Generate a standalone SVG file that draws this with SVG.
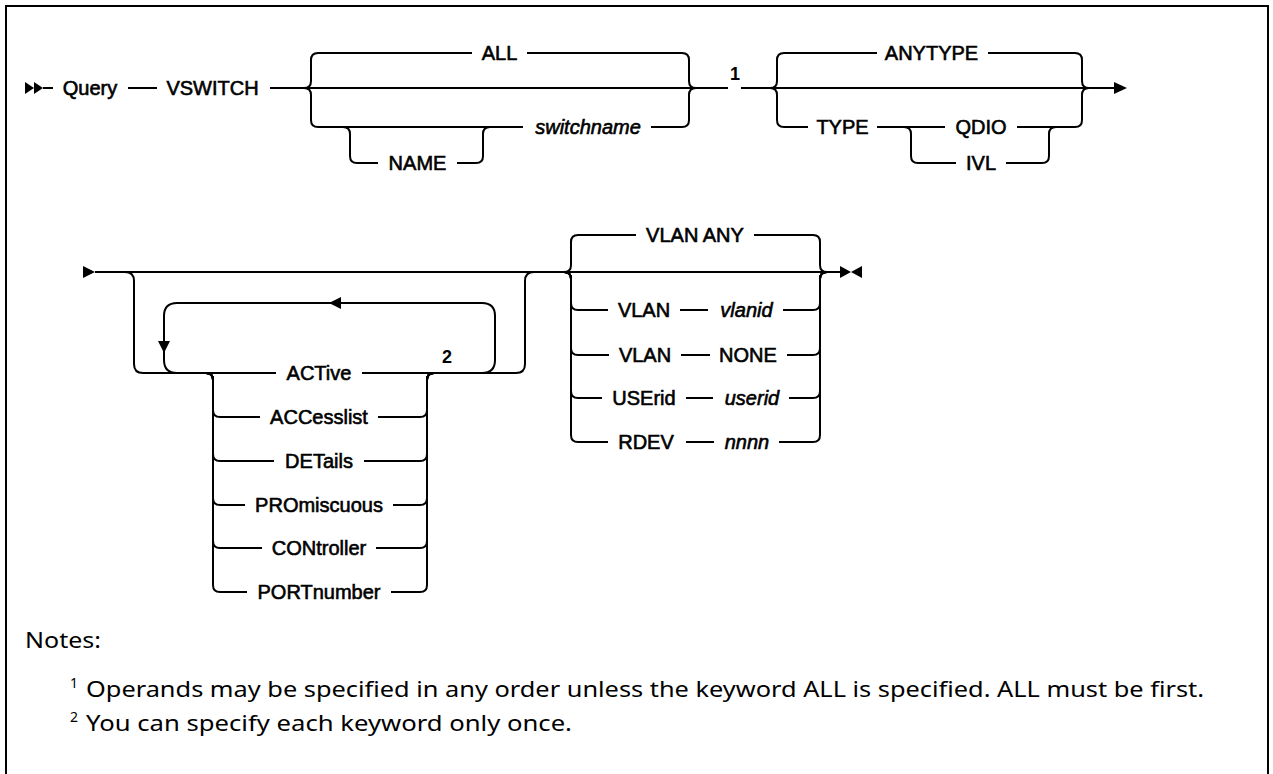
<svg xmlns="http://www.w3.org/2000/svg" width="1273" height="774" viewBox="0 0 1273 774">
<style>
.ln{fill:none;stroke:#000;stroke-width:2}
.ah{fill:#000;stroke:none}
.kw{font-family:"Liberation Sans",Arial,sans-serif;font-size:20px;fill:#000;stroke:#000;stroke-width:0.6;text-anchor:middle}
.var{font-style:italic}
.fn{font-family:"Liberation Sans",Arial,sans-serif;font-size:18px;font-weight:bold;fill:#000;text-anchor:middle}
.note{font-family:"Noto Sans","Liberation Sans",sans-serif;font-size:21px;fill:#000}
.sup{font-family:"Noto Sans","Liberation Sans",sans-serif;font-size:14px;fill:#000}
</style>
<rect x="0" y="0" width="1273" height="774" fill="#fff"/>
<rect x="6" y="6" width="1262" height="800" fill="none" stroke="#000" stroke-width="2"/>

<g id="connectors">
  <!-- row 1 main line -->
  <path class="ln" d="M43,88 H53 M128,88 H157 M270,88 H728 M741,88 H1114"/>
  <!-- group 1 -->
  <path class="ln" d="M304,88 q7,0 7,-7 V60 q0,-7 7,-7 H472 M527,53 H682 q7,0 7,7 V81 q0,7 7,7"/>
  <path class="ln" d="M304,88 q7,0 7,7 V120 q0,7 7,7 H523 M651,127 H682 q7,0 7,-7 V95 q0,-7 7,-7"/>
  <path class="ln" d="M343,127 q7,0 7,7 V156 q0,7 7,7 H378 M457,163 H476 q7,0 7,-7 V134 q0,-7 7,-7"/>
  <!-- group 2 -->
  <path class="ln" d="M770,88 q7,0 7,-7 V60 q0,-7 7,-7 H877 M988,53 H1075 q7,0 7,7 V81 q0,7 7,7"/>
  <path class="ln" d="M770,88 q7,0 7,7 V120 q0,7 7,7 H808 M877,127 H945 M1017,127 H1075 q7,0 7,-7 V95 q0,-7 7,-7"/>
  <path class="ln" d="M904,127 q7,0 7,7 V156 q0,7 7,7 H956 M1006,163 H1042 q7,0 7,-7 V134 q0,-7 7,-7"/>
  <!-- row 1 arrows -->
  <polygon class="ah" points="25,82 34,88 25,94"/>
  <polygon class="ah" points="34,82 43,88 34,94"/>
  <polygon class="ah" points="1114,82 1127,88 1114,94"/>

  <!-- row 2 main line -->
  <path class="ln" d="M95,272 H840"/>
  <!-- optional group -->
  <path class="ln" d="M125,272 q9,0 9,9 V364 q0,9 9,9 H276 M362,373 H516 q9,0 9,-9 V281 q0,-9 9,-9"/>
  <!-- repeat loop -->
  <path class="ln" d="M482,373 q13,0 13,-13 V316 q0,-13 -13,-13 H177 q-13,0 -13,13 V360 q0,13 13,13"/>
  <polygon class="ah" points="341,297 329,303 341,309"/>
  <polygon class="ah" points="158,341 170,341 164,353"/>
  <!-- list -->
  <path class="ln" d="M206,373 q7,0 7,7 V410 q0,7 7,7 H260 M378,417 H420 q7,0 7,-7 V380 q0,-7 7,-7"/>
  <path class="ln" d="M206,373 q7,0 7,7 V454 q0,7 7,7 H274 M364,461 H420 q7,0 7,-7 V380 q0,-7 7,-7"/>
  <path class="ln" d="M206,373 q7,0 7,7 V498 q0,7 7,7 H245 M393,505 H420 q7,0 7,-7 V380 q0,-7 7,-7"/>
  <path class="ln" d="M206,373 q7,0 7,7 V541 q0,7 7,7 H262 M376,548 H420 q7,0 7,-7 V380 q0,-7 7,-7"/>
  <path class="ln" d="M206,373 q7,0 7,7 V585 q0,7 7,7 H247 M391,592 H420 q7,0 7,-7 V380 q0,-7 7,-7"/>
  <!-- VLAN group -->
  <path class="ln" d="M564,272 q7,0 7,-7 V242 q0,-7 7,-7 H636 M754,235 H813 q7,0 7,7 V265 q0,7 7,7"/>
  <path class="ln" d="M564,272 q7,0 7,7 V303 q0,7 7,7 H608 M680,310 H708 M783,310 H813 q7,0 7,-7 V279 q0,-7 7,-7"/>
  <path class="ln" d="M564,272 q7,0 7,7 V348 q0,7 7,7 H609 M681,355 H710 M787,355 H813 q7,0 7,-7 V279 q0,-7 7,-7"/>
  <path class="ln" d="M564,272 q7,0 7,7 V391 q0,7 7,7 H602 M686,398 H713 M789,398 H813 q7,0 7,-7 V279 q0,-7 7,-7"/>
  <path class="ln" d="M564,272 q7,0 7,7 V435 q0,7 7,7 H608 M686,442 H714 M779,442 H813 q7,0 7,-7 V279 q0,-7 7,-7"/>
  <!-- row 2 arrows -->
  <polygon class="ah" points="83,266 95,272 83,278"/>
  <polygon class="ah" points="840,266 851,272 840,278"/>
  <polygon class="ah" points="862,266 851,272 862,278"/>
</g>

<g id="n-query"><text class="kw" x="90" y="95">Query</text></g>
<g id="n-vswitch"><text class="kw" x="212.5" y="95">VSWITCH</text></g>
<g id="n-all"><text class="kw" x="499.5" y="60">ALL</text></g>
<g id="n-name"><text class="kw" x="417.5" y="170">NAME</text></g>
<g id="n-switchname"><text class="kw var" x="588" y="134">switchname</text></g>
<g id="n-fn1"><text class="fn" x="735" y="80">1</text></g>
<g id="n-anytype"><text class="kw" x="931.5" y="60">ANYTYPE</text></g>
<g id="n-type"><text class="kw" x="842.5" y="134">TYPE</text></g>
<g id="n-qdio"><text class="kw" x="981" y="134">QDIO</text></g>
<g id="n-ivl"><text class="kw" x="981" y="170">IVL</text></g>

<g id="n-active"><text class="kw" x="319" y="380">ACTive</text></g>
<g id="n-fn2"><text class="fn" x="447" y="363">2</text></g>
<g id="n-accesslist"><text class="kw" x="319" y="424">ACCesslist</text></g>
<g id="n-details"><text class="kw" x="319" y="468">DETails</text></g>
<g id="n-promiscuous"><text class="kw" x="319" y="512">PROmiscuous</text></g>
<g id="n-controller"><text class="kw" x="319" y="555">CONtroller</text></g>
<g id="n-portnumber"><text class="kw" x="319" y="599">PORTnumber</text></g>

<g id="n-vlanany"><text class="kw" x="695" y="242">VLAN ANY</text></g>
<g id="n-vlan1"><text class="kw" x="644" y="317">VLAN</text><text class="kw var" x="746.5" y="317">vlanid</text></g>
<g id="n-vlan2"><text class="kw" x="645" y="362">VLAN</text><text class="kw" x="748" y="362">NONE</text></g>
<g id="n-userid"><text class="kw" x="644" y="405">USErid</text><text class="kw var" x="752" y="405">userid</text></g>
<g id="n-rdev"><text class="kw" x="646" y="449">RDEV</text><text class="kw var" x="747" y="449">nnnn</text></g>

<g id="notes">
  <text class="note" x="25" y="648" textLength="76" lengthAdjust="spacingAndGlyphs">Notes:</text>
  <text class="sup" x="70" y="688">1</text>
  <text class="note" x="86" y="697" textLength="1118" lengthAdjust="spacingAndGlyphs">Operands may be specified in any order unless the keyword ALL is specified. ALL must be first.</text>
  <text class="sup" x="70" y="722">2</text>
  <text class="note" x="86" y="731" textLength="486" lengthAdjust="spacingAndGlyphs">You can specify each keyword only once.</text>
</g>
</svg>
